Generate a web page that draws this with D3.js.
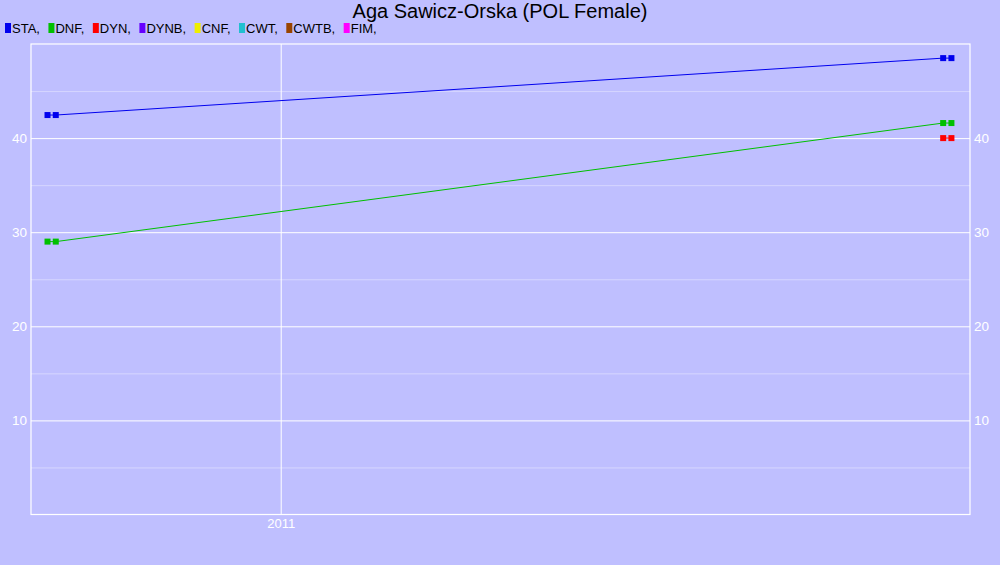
<!DOCTYPE html>
<html>
<head>
<meta charset="utf-8">
<script src="https://cdn.jsdelivr.net/npm/d3@7"></script>
<style>
  body { margin: 0; background: #bfbfff; }
  svg { display: block; font-family: "Liberation Sans", Arial, sans-serif; }
</style>
</head>
<body>
<div id="chart"></div>
<script>
// Legend categories and colours
var disciplines = ["STA", "DNF", "DYN", "DYNB", "CNF", "CWT", "CWTB", "FIM"];
var colors = ["#0000ee", "#00c000", "#ff0000", "#6600ff", "#eeee00", "#20c0d0", "#994400", "#ff00ff"];

// Series: dates and values
var staDates = ["2010-09-10", "2010-09-14", "2011-11-18", "2011-11-22"];
var staValues = [42.45, 42.45, 48.5, 48.5];
var dnfDates = ["2010-09-10", "2010-09-14", "2011-11-18", "2011-11-22"];
var dnfValues = [29.0, 29.0, 41.6, 41.6];
var dynDates = ["2011-11-18", "2011-11-22"];
var dynValues = [40.0, 40.0];

var majorTicks = [10, 20, 30, 40];
var minorTicks = [5, 15, 25, 35, 45];
var yearTicks = ["2011-01-01"];

function draw() {
  "use strict";
  var width = 1000,
      height = 565,
      left = 31,
      right = 970,
      top = 44,
      bottom = 514.5;

  var parse = d3.timeParse("%Y-%m-%d");

  var svg = d3.select("#chart")
              .append("svg")
              .attr("width", width)
              .attr("height", height);

  svg.append("rect")
     .attr("width", width)
     .attr("height", height)
     .attr("fill", "#bfbfff");

  var xScale = d3.scaleTime()
                 .domain([parse("2010-09-02"), parse("2011-12-01")])
                 .range([left, right]);

  var yScale = d3.scaleLinear()
                 .domain([0, 50])
                 .range([bottom, top]);

  // Minor grid lines
  svg.append("g")
     .attr("transform", "translate(" + left + ",0)")
     .call(d3.axisLeft(yScale).tickValues(minorTicks)
             .tickSize(-(right - left)).tickFormat(""))
     .call(function(g) { g.select(".domain").remove(); })
     .selectAll("line")
     .attr("stroke", "#d6d6ff");

  // Major grid lines with labels on the left
  var yLeft = svg.append("g")
     .attr("transform", "translate(" + left + ",0)")
     .call(d3.axisLeft(yScale).tickValues(majorTicks)
             .tickSize(-(right - left)).tickPadding(4));
  yLeft.select(".domain").remove();
  yLeft.selectAll("line").attr("stroke", "#ffffff");
  yLeft.selectAll("text")
       .attr("fill", "#ffffff")
       .style("font-size", "13.5px");

  // Labels on the right
  var yRight = svg.append("g")
     .attr("transform", "translate(" + right + ",0)")
     .call(d3.axisRight(yScale).tickValues(majorTicks)
             .tickSize(0).tickPadding(4));
  yRight.select(".domain").remove();
  yRight.selectAll("text")
        .attr("fill", "#ffffff")
        .style("font-size", "13.5px");

  // Year grid line and label
  var xAxis = svg.append("g")
     .attr("transform", "translate(0," + bottom + ")")
     .call(d3.axisBottom(xScale).tickValues(yearTicks.map(parse))
             .tickSize(-(bottom - top)).tickPadding(4)
             .tickFormat(d3.timeFormat("%Y")));
  xAxis.select(".domain").remove();
  xAxis.selectAll("line").attr("stroke", "#ffffff");
  xAxis.selectAll("text")
       .attr("fill", "#ffffff")
       .style("font-size", "13px");

  // Plot frame
  svg.append("rect")
     .attr("x", left)
     .attr("y", top)
     .attr("width", right - left)
     .attr("height", bottom - top)
     .attr("fill", "none")
     .attr("stroke", "#ffffff")
     .attr("stroke-width", 1.2);

  // Series
  var series = [
    { dates: staDates, values: staValues, color: colors[0] },
    { dates: dnfDates, values: dnfValues, color: colors[1] },
    { dates: dynDates, values: dynValues, color: colors[2] }
  ];

  var line = d3.line()
               .x(function(d) { return xScale(d.date); })
               .y(function(d) { return yScale(d.value); });

  series.forEach(function(s) {
    var pts = s.dates.map(function(d, i) {
      return { date: parse(d), value: s.values[i] };
    });
    svg.append("path")
       .datum(pts)
       .attr("d", line)
       .attr("fill", "none")
       .attr("stroke", s.color)
       .attr("stroke-width", 1);
    svg.append("g")
       .selectAll("rect")
       .data(pts)
       .enter()
       .append("rect")
       .attr("x", function(d) { return xScale(d.date) - 3; })
       .attr("y", function(d) { return yScale(d.value) - 3; })
       .attr("width", 6)
       .attr("height", 6)
       .attr("fill", s.color);
  });

  // Title
  svg.append("text")
     .attr("x", 500)
     .attr("y", 18)
     .attr("text-anchor", "middle")
     .attr("fill", "#000000")
     .style("font-size", "20px")
     .text("Aga Sawicz-Orska (POL Female)");

  // Legend
  var lx = 5;
  var legendG = svg.append("g");
  disciplines.forEach(function(name, i) {
    legendG.append("rect")
           .attr("x", lx)
           .attr("y", 23)
           .attr("width", 6)
           .attr("height", 10)
           .attr("fill", colors[i]);
    var t = legendG.append("text")
                   .attr("x", lx + 7)
                   .attr("y", 33)
                   .attr("fill", "#000000")
                   .style("font-size", "13px")
                   .text(name + ",");
    lx += 7 + t.node().getComputedTextLength() + 8.5;
  });
}

draw();
</script>
</body>
</html>
